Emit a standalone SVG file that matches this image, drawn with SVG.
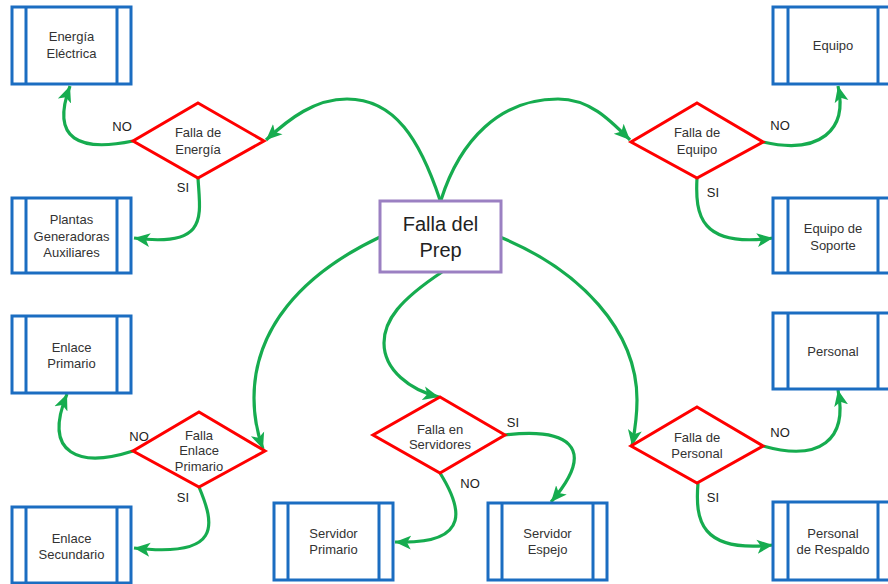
<svg xmlns="http://www.w3.org/2000/svg" width="888" height="584" viewBox="0 0 888 584">
<style>
.box{fill:#fff;stroke:#1b6dc1;stroke-width:3}
.inner{stroke:#1b6dc1;stroke-width:3}
.dia{fill:#fff;stroke:#ff0000;stroke-width:3;stroke-linejoin:miter}
.main{fill:#fff;stroke:#9b80c2;stroke-width:3}
.t{font-family:"Liberation Sans",Arial,sans-serif;font-size:13px;fill:#333;text-anchor:middle}
.big{font-family:"Liberation Sans",Arial,sans-serif;font-size:20px;fill:#222;text-anchor:middle}
.lbl{font-family:"Liberation Sans",Arial,sans-serif;font-size:13px;fill:#222;text-anchor:middle}
.c{fill:none;stroke:#16ac4f;stroke-width:3.2;marker-end:url(#ah)}
</style>
<defs>
<marker id="ah" markerUnits="userSpaceOnUse" markerWidth="18" markerHeight="16" refX="16" refY="8" orient="auto">
<path d="M0,1 L16,8 L0,15 L4,8 Z" fill="#16ac4f"/>
</marker>
</defs>
<rect width="888" height="584" fill="#fff"/>

<g id="connectors">
<path class="c" d="M440,200 C420,140 395,99 347,99 C315,99 290,118 266,140"/>
<path class="c" d="M441,200 C460,140 500,99 558,99 C590,99 610,120 630,140"/>
<path class="c" d="M380,237 C300,275 254,330 254,398 C254,420 259,438 263,449"/>
<path class="c" d="M442,272 C400,300 384,320 384,343 C384,370 410,390 439,397"/>
<path class="c" d="M500,237 C580,270 637,330 637,400 C637,420 634,435 632,446"/>
<path class="c" d="M133,141 C80,152 50,140 70,86"/>
<path class="c" d="M198,178 C200,215 210,248 134,238"/>
<path class="c" d="M763,142 C820,155 848,130 838,86"/>
<path class="c" d="M697,178 C695,215 700,248 773,238"/>
<path class="c" d="M440,473 C460,505 475,545 395,542"/>
<path class="c" d="M505,435 C565,428 600,445 551,502"/>
<path class="c" d="M133,451 C80,468 42,455 67,394"/>
<path class="c" d="M199,487 C215,525 222,558 134,548"/>
<path class="c" d="M763,446 C820,462 848,440 838,390"/>
<path class="c" d="M698,483 C695,520 700,553 773,545"/>
</g>

<g id="n-main">
<rect class="main" x="380" y="201" width="121" height="71"/>
<text class="big" x="440.5" y="231">Falla del</text>
<text class="big" x="440.5" y="257">Prep</text>
</g>

<g id="n-energia-electrica">
<rect class="box" x="12" y="7" width="119" height="77"/>
<line class="inner" x1="26" y1="7" x2="26" y2="84"/><line class="inner" x1="117" y1="7" x2="117" y2="84"/>
<text class="t" x="71.5" y="41">Energía</text>
<text class="t" x="71.5" y="58">Eléctrica</text>
</g>

<g id="n-plantas">
<rect class="box" x="12" y="198" width="119" height="75"/>
<line class="inner" x1="26" y1="198" x2="26" y2="273"/><line class="inner" x1="117" y1="198" x2="117" y2="273"/>
<text class="t" x="71.5" y="224">Plantas</text>
<text class="t" x="71.5" y="241">Generadoras</text>
<text class="t" x="71.5" y="257">Auxiliares</text>
</g>

<g id="n-enlace-primario">
<rect class="box" x="12" y="316" width="119" height="77"/>
<line class="inner" x1="26" y1="316" x2="26" y2="393"/><line class="inner" x1="117" y1="316" x2="117" y2="393"/>
<text class="t" x="71.5" y="352">Enlace</text>
<text class="t" x="71.5" y="368">Primario</text>
</g>

<g id="n-enlace-secundario">
<rect class="box" x="12" y="507" width="119" height="76"/>
<line class="inner" x1="26" y1="507" x2="26" y2="583"/><line class="inner" x1="117" y1="507" x2="117" y2="583"/>
<text class="t" x="71.5" y="543">Enlace</text>
<text class="t" x="71.5" y="559">Secundario</text>
</g>

<g id="n-servidor-primario">
<rect class="box" x="274" y="503" width="119" height="77"/>
<line class="inner" x1="288" y1="503" x2="288" y2="580"/><line class="inner" x1="379" y1="503" x2="379" y2="580"/>
<text class="t" x="333.5" y="538">Servidor</text>
<text class="t" x="333.5" y="554">Primario</text>
</g>

<g id="n-servidor-espejo">
<rect class="box" x="488" y="503" width="119" height="77"/>
<line class="inner" x1="502" y1="503" x2="502" y2="580"/><line class="inner" x1="593" y1="503" x2="593" y2="580"/>
<text class="t" x="547.5" y="538">Servidor</text>
<text class="t" x="547.5" y="554">Espejo</text>
</g>

<g id="n-equipo">
<rect class="box" x="773" y="7" width="119" height="77"/>
<line class="inner" x1="788" y1="7" x2="788" y2="84"/><line class="inner" x1="878" y1="7" x2="878" y2="84"/>
<text class="t" x="833" y="50">Equipo</text>
</g>

<g id="n-equipo-soporte">
<rect class="box" x="773" y="198" width="119" height="75"/>
<line class="inner" x1="788" y1="198" x2="788" y2="273"/><line class="inner" x1="878" y1="198" x2="878" y2="273"/>
<text class="t" x="833" y="233">Equipo de</text>
<text class="t" x="833" y="250">Soporte</text>
</g>

<g id="n-personal">
<rect class="box" x="773" y="313" width="119" height="76"/>
<line class="inner" x1="788" y1="313" x2="788" y2="389"/><line class="inner" x1="878" y1="313" x2="878" y2="389"/>
<text class="t" x="833" y="356">Personal</text>
</g>

<g id="n-personal-respaldo">
<rect class="box" x="773" y="502" width="119" height="78"/>
<line class="inner" x1="788" y1="502" x2="788" y2="580"/><line class="inner" x1="878" y1="502" x2="878" y2="580"/>
<text class="t" x="833" y="538">Personal</text>
<text class="t" x="833" y="554">de Respaldo</text>
</g>

<g id="d-energia">
<polygon class="dia" points="198,103 264,141 198,178 133,141"/>
<text class="t" x="198" y="137">Falla de</text>
<text class="t" x="198" y="154">Energía</text>
</g>

<g id="d-equipo">
<polygon class="dia" points="697,103 763,142 697,178 631,142"/>
<text class="t" x="697" y="137">Falla de</text>
<text class="t" x="697" y="154">Equipo</text>
</g>

<g id="d-enlace">
<polygon class="dia" points="199,412 265,451 199,487 133,451"/>
<text class="t" x="199" y="440">Falla</text>
<text class="t" x="199" y="455">Enlace</text>
<text class="t" x="199" y="471">Primario</text>
</g>

<g id="d-servidores">
<polygon class="dia" points="440,397 505,435 440,473 373,435"/>
<text class="t" x="440" y="434">Falla en</text>
<text class="t" x="440" y="449">Servidores</text>
</g>

<g id="d-personal">
<polygon class="dia" points="697,407 763,446 697,483 631,446"/>
<text class="t" x="697" y="442">Falla de</text>
<text class="t" x="697" y="458">Personal</text>
</g>

<g id="labels">
<text class="lbl" x="122" y="131">NO</text>
<text class="lbl" x="183" y="192">SI</text>
<text class="lbl" x="780" y="130">NO</text>
<text class="lbl" x="713" y="197">SI</text>
<text class="lbl" x="139" y="441">NO</text>
<text class="lbl" x="183" y="502">SI</text>
<text class="lbl" x="513" y="427">SI</text>
<text class="lbl" x="470" y="488">NO</text>
<text class="lbl" x="780" y="437">NO</text>
<text class="lbl" x="713" y="502">SI</text>
</g>
</svg>
